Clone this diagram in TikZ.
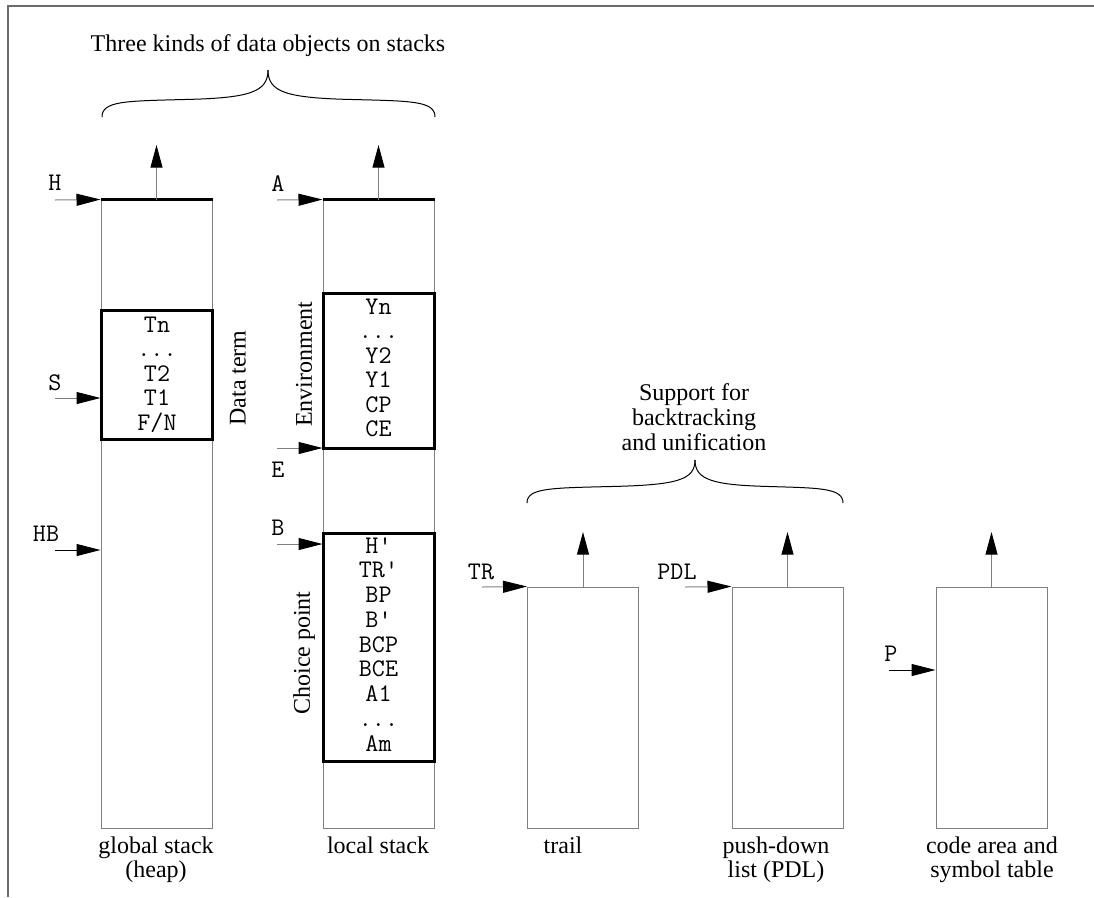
\documentclass[tikz,border=0pt]{standalone}
\usepackage{fontspec}
\setmainfont{Liberation Serif}
\usetikzlibrary{arrows.meta}
\definecolor{colgray}{gray}{0.5}
\definecolor{framegray}{gray}{0.42}
\begin{document}
\begin{tikzpicture}[x=0.75pt,y=-0.75pt,
  colbox/.style={draw=colgray,line width=0.75pt,inner sep=0pt,minimum width=83.25pt},
  recbox/.style={draw=black,line width=2.25pt,inner sep=0pt,minimum width=83.25pt},
  ptr/.style={font=\ttfamily\fontsize{19}{19}\selectfont,inner sep=0pt},
  entry/.style={font=\ttfamily\fontsize{19}{19}\selectfont,inner sep=0pt,anchor=base},
  lbl/.style={font=\fontsize{18}{18}\selectfont,align=center,inner sep=0pt},
  ptrarrow/.style={draw=colgray,line width=0.75pt,-{Triangle[length=18pt,width=9pt,black]}},
  ptrarrowb/.style={draw=black,line width=0.75pt,-{Triangle[length=18pt,width=9pt,black]}},
  uparrow/.style={draw=colgray,line width=0.75pt,-{Triangle[length=17pt,width=9pt,black]}},
  thicktop/.style={draw=black,line width=2.25pt},
  bracestyle/.style={draw=black,line width=0.75pt}
]
\useasboundingbox (0,0) rectangle (1094,897);
% frame
\draw[framegray,line width=1.5pt] (8,897) -- (8,6) -- (1094,6);

% columns
\node[colbox,minimum height=471pt] (heap) at (156.5,514) {};
\node[colbox,minimum height=471pt] (local) at (378.5,514) {};
\node[colbox,minimum height=180.75pt] (trail) at (583,707.5) {};
\node[colbox,minimum height=180.75pt] (pdl) at (787.5,707.5) {};
\node[colbox,minimum height=180.75pt] (code) at (991.5,707.5) {};
\draw[thicktop] (heap.north west) -- (heap.north east);
\draw[thicktop] (local.north west) -- (local.north east);

% up arrows
\coordinate (heapup) at (156.5,145);
\coordinate (localup) at (378.5,145);
\coordinate (trailup) at (583,532);
\coordinate (pdlup) at (787.5,532);
\coordinate (codeup) at (991.5,532);
\draw[uparrow] (heap.north) -- (heapup);
\draw[uparrow] (local.north) -- (localup);
\draw[uparrow] (trail.north) -- (trailup);
\draw[uparrow] (pdl.north) -- (pdlup);
\draw[uparrow] (code.north) -- (codeup);

% record boxes
\node[recbox,minimum height=96.75pt] (dterm) at (156.5,374.5) {};
\node[recbox,minimum height=116.25pt] (env) at (378.5,370.5) {};
\node[recbox,minimum height=171pt] (choice) at (378.5,647) {};

% data term entries
\node[entry] (dt1) at (157,332) {Tn};
\node[entry] (dt2) at (157,356.5) {...};
\node[entry] (dt3) at (157,381) {T2};
\node[entry] (dt4) at (157,405.5) {T1};
\node[entry] (dt5) at (157,430) {F/N};
% environment entries
\node[entry] (en1) at (378.5,314) {Yn};
\node[entry] (en2) at (378.5,338.5) {...};
\node[entry] (en3) at (378.5,363) {Y2};
\node[entry] (en4) at (378.5,387.5) {Y1};
\node[entry] (en5) at (378.5,412) {CP};
\node[entry] (en6) at (378.5,436.5) {CE};
% choice point entries
\node[entry] (cp1) at (378.5,553) {H\textquotesingle};
\node[entry] (cp2) at (378.5,577.75) {TR\textquotesingle};
\node[entry] (cp3) at (378.5,602.5) {BP};
\node[entry] (cp4) at (378.5,627.25) {B\textquotesingle};
\node[entry] (cp5) at (378.5,652) {BCP};
\node[entry] (cp6) at (378.5,676.75) {BCE};
\node[entry] (cp7) at (378.5,701.5) {A1};
\node[entry] (cp8) at (378.5,726.25) {...};
\node[entry] (cp9) at (378.5,751) {Am};

% rotated labels
\node[lbl,rotate=90] (dtlbl) at (238,378) {Data term};
\node[lbl,rotate=90] (envlbl) at (304,364) {Environment};
\node[lbl,rotate=90] (cplbl) at (304,653) {Choice point};

% pointers
\node[ptr] (Hl) at (55,183) {H};
\coordinate (Hs) at (55,200);
\draw[ptrarrow] (Hs) -- (heap.north west);
\node[ptr] (Sl) at (55,383) {S};
\coordinate (Ss) at (55,398);
\draw[ptrarrow] (Ss) -- (Ss -| heap.west);
\node[ptr] (HBl) at (46,534) {HB};
\coordinate (HBs) at (55,550);
\draw[ptrarrowb] (HBs) -- (HBs -| heap.west);
\node[ptr] (Al) at (278,184) {A};
\coordinate (As) at (277,200);
\draw[ptrarrow] (As) -- (local.north west);
\node[ptr] (El) at (278,470) {E};
\coordinate (Es) at (277,448);
\draw[ptrarrow] (Es) -- (Es -| local.west);
\node[ptr] (Bl) at (278,528) {B};
\coordinate (Bs) at (277,544);
\draw[ptrarrow] (Bs) -- (Bs -| local.west);
\node[ptr] (TRl) at (481,572) {TR};
\coordinate (TRs) at (482,587);
\draw[ptrarrow] (TRs) -- (trail.north west);
\node[ptr] (PDLl) at (677,572) {PDL};
\coordinate (PDLs) at (685,587);
\draw[ptrarrow] (PDLs) -- (pdl.north west);
\node[ptr] (Pl) at (891,654) {P};
\coordinate (Ps) at (889,670);
\draw[ptrarrowb] (Ps) -- (Ps -| code.west);

% braces
\draw[bracestyle] (102,117) .. controls (102,101) and (125,101) .. (185,99.5)
  .. controls (250,98) and (268,92) .. (268,70);
\draw[bracestyle] (435,117) .. controls (435,101) and (412,101) .. (352,99.5)
  .. controls (286,98) and (268,92) .. (268,70);
\draw[bracestyle] (527,503) .. controls (527,488) and (550,488) .. (611,486.5)
  .. controls (677,485) and (695,480) .. (695,460);
\draw[bracestyle] (843,503) .. controls (843,488) and (820,488) .. (769,486.5)
  .. controls (713,485) and (695,480) .. (695,460);

% titles
\node[lbl] (title) at (268,45.5) {Three kinds of data objects on stacks};
\node[lbl,font=\fontsize{18}{18.75}\selectfont] (supp) at (694,417) {Support for\\backtracking\\and unification};

% column labels
\node[lbl] (heaplbl) at (156,860) {global stack\\(heap)};
\node[lbl] (locallbl) at (378,845.5) {local stack};
\node[lbl] (traillbl) at (563,845.5) {trail};
\node[lbl] (pdllbl) at (776,860) {push-down\\list (PDL)};
\node[lbl] (codelbl) at (992,860) {code area and\\symbol table};
\end{tikzpicture}
\end{document}
